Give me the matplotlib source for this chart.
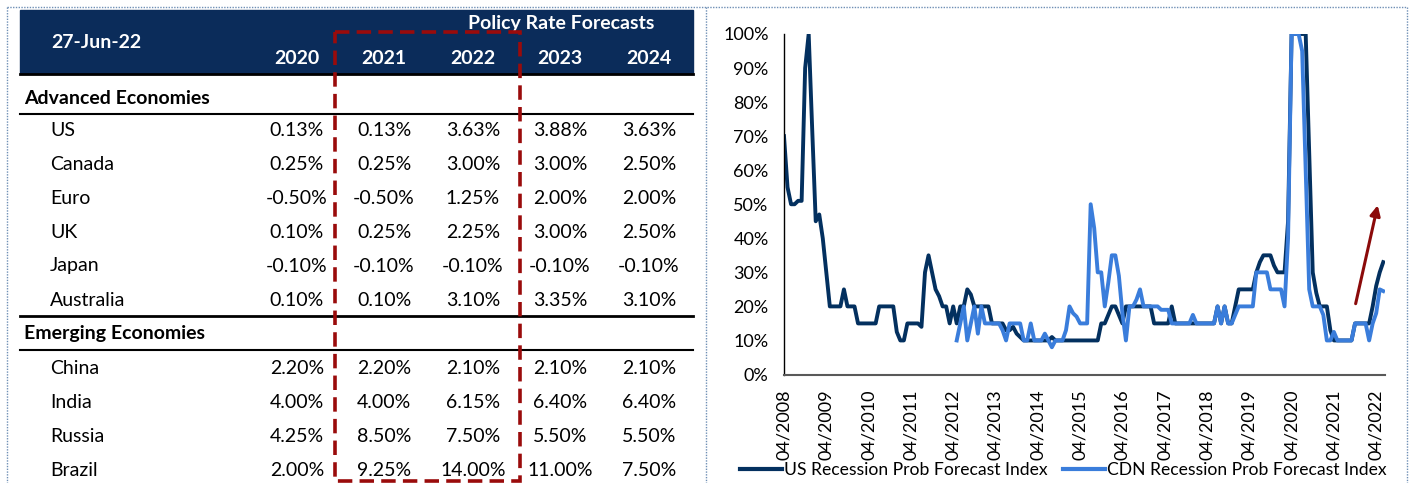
import numpy as np
import matplotlib
matplotlib.use("Agg")
import matplotlib.pyplot as plt
from matplotlib.patches import Rectangle
from matplotlib.lines import Line2D

plt.rcParams['font.family'] = ['Lato', 'DejaVu Sans']

# --- dane lentelei ---
table_date = "27-Jun-22"
table_title = "Policy Rate Forecasts"
years = ["2020", "2021", "2022", "2023", "2024"]

adv_title = "Advanced Economies"
adv_names = ["US", "Canada", "Euro", "UK", "Japan", "Australia"]
adv_rates = [
    [0.13, 0.13, 3.63, 3.88, 3.63],
    [0.25, 0.25, 3.00, 3.00, 2.50],
    [-0.50, -0.50, 1.25, 2.00, 2.00],
    [0.10, 0.25, 2.25, 3.00, 2.50],
    [-0.10, -0.10, -0.10, -0.10, -0.10],
    [0.10, 0.10, 3.10, 3.35, 3.10],
]

em_title = "Emerging Economies"
em_names = ["China", "India", "Russia", "Brazil"]
em_rates = [
    [2.20, 2.20, 2.10, 2.10, 2.10],
    [4.00, 4.00, 6.15, 6.40, 6.40],
    [4.25, 8.50, 7.50, 5.50, 5.50],
    [2.00, 9.25, 14.00, 11.00, 7.50],
]

# --- recesijos tikimybes (menesiniai duomenys nuo 04/2008) ---
us_prob = [
    70, 55, 50, 50, 51, 51, 90, 100, 72, 45, 47, 40,
    30, 20, 20, 20, 20, 25, 20, 20, 20, 15, 15, 15,
    15, 15, 15, 20, 20, 20, 20, 20, 12.5, 10, 10, 15,
    15, 15, 15, 14, 30, 35, 30, 25, 23, 20, 20, 15,
    20, 15, 20, 20, 25, 23.5, 20, 20, 20, 20, 20, 15,
    15, 15, 15, 13, 13, 14, 12, 11, 10, 10, 10, 10,
    10, 10, 10, 10, 11, 10, 10, 10, 10, 10, 10, 10,
    10, 10, 10, 10, 10, 10, 15, 15, 17.5, 20, 20, 17.5,
    15, 20, 20, 20, 20, 20, 20, 20, 20, 15, 15, 15,
    15, 15, 20, 15, 15, 15, 15, 15, 15, 15, 15, 15,
    15, 15, 15, 20, 15, 20, 15, 15, 20, 25, 25, 25,
    25, 25, 30, 33, 35, 35, 35, 32, 30, 30, 30, 45,
    100, 100, 100, 100, 100, 65, 30, 24, 20, 20, 20, 13,
    10, 10, 10, 10, 10, 10, 15, 15, 15, 15, 15, 20,
    26, 30, 33,
]

cdn_start = 49  # CDN serija prasideda 05/2012
cdn_prob = [
    10, 15, 20, 10, 15, 20, 12, 20, 15, 15, 15,
    15, 15, 13, 10, 15, 15, 15, 15, 10, 10, 15, 10,
    10, 10, 12, 10, 8, 10, 10, 10, 13, 20, 18, 17,
    15, 15, 15, 50, 43, 30, 30, 20, 27, 35, 35, 29,
    18, 10, 20, 20, 22, 25, 20, 20, 20, 20, 20, 19,
    19, 19, 15, 15, 15, 15, 15, 15, 17.5, 15, 15, 15,
    15, 15, 15, 20, 15, 20, 15, 15, 17.5, 20, 20, 20,
    20, 20, 30, 30, 30, 30, 25, 25, 25, 25, 20, 40,
    100, 100, 100, 95, 60, 25, 20, 20, 20, 17.5, 10, 10,
    12.5, 10, 10, 10, 10, 10, 15, 15, 15, 15, 10, 15,
    18, 25, 24.5,
]

x_labels = ["04/2008", "04/2009", "04/2010", "04/2011", "04/2012", "04/2013",
            "04/2014", "04/2015", "04/2016", "04/2017", "04/2018", "04/2019",
            "04/2020", "04/2021", "04/2022"]
y_ticks = [0, 10, 20, 30, 40, 50, 60, 70, 80, 90, 100]

us_label = "US Recession Prob Forecast Index"
cdn_label = "CDN Recession Prob Forecast Index"

# rodykle (menuo, %)
arrow_from = (162, 20)
arrow_to = (168.6, 50.5)

NAVY = "#0b2c5a"
DARK = "#03305f"
LIGHT = "#3a7ddb"
RED = "#9a0b0b"

W, H = 1413, 483
fig = plt.figure(figsize=(W / 100, H / 100), dpi=100)

# ---------- lentele (pikseliu koordinatemis) ----------
ax_t = fig.add_axes([0, 0, 1, 1])
ax_t.set_xlim(0, W)
ax_t.set_ylim(H, 0)
ax_t.axis("off")

# remeliai punktyru
for xs, ys in [((7, 1407), (7, 7)), ((7, 7), (7, H)), ((706, 706), (7, H)), ((1407, 1407), (7, H))]:
    ax_t.plot(xs, ys, ls=(0, (1, 1)), color="#6f8fb5", lw=1)

ax_t.add_patch(Rectangle((20, 10), 673, 63, color=NAVY, zorder=1))
hfs = 14
ax_t.text(561, 24, table_title, color="white", fontsize=hfs, fontweight="bold",
          ha="center", va="center", zorder=2)
ax_t.text(96, 43, table_date, color="white", fontsize=hfs, fontweight="bold",
          ha="center", va="center", zorder=2)

col_x = [297, 384, 473, 560, 649]
for cx, yr in zip(col_x, years):
    ax_t.text(cx, 59, yr, color="white", fontsize=hfs, fontweight="bold",
              ha="center", va="center", zorder=2)

for yl, lw in [(74, 2.0), (114, 1.5), (316, 2.0), (350, 1.5)]:
    ax_t.plot([20, 693], [yl, yl], color="black", lw=lw, zorder=2)

fs = 14
ax_t.text(24, 98, adv_title, fontsize=fs, fontweight="bold", va="center")
row_y = [131, 165, 199, 233, 266, 300]
for y, name, vals in zip(row_y, adv_names, adv_rates):
    ax_t.text(50, y, name, fontsize=fs, va="center")
    for cx, v in zip(col_x, vals):
        ax_t.text(cx, y, f"{v:.2f}%", fontsize=fs, va="center", ha="center")

ax_t.text(24, 334, em_title, fontsize=fs, fontweight="bold", va="center")
row_y = [369, 403, 437, 470]
for y, name, vals in zip(row_y, em_names, em_rates):
    ax_t.text(50, y, name, fontsize=fs, va="center")
    for cx, v in zip(col_x, vals):
        ax_t.text(cx, y, f"{v:.2f}%", fontsize=fs, va="center", ha="center")

# raudonas punktyrinis remelis 2021-2022 stulpeliams
ax_t.add_patch(Rectangle((335, 32), 185, 449, fill=False, edgecolor=RED,
                         lw=2.6, ls=(0, (4, 2)), zorder=3))

# ---------- grafikas ----------
ax = fig.add_axes([784 / W, (H - 374.5) / H, (1385 - 784) / W, 340.5 / H])
months = np.arange(len(us_prob))
ax.plot(months, us_prob, color=DARK, lw=2.8, solid_joinstyle="round")
ax.plot(months[cdn_start:cdn_start + len(cdn_prob)], cdn_prob, color=LIGHT, lw=2.8,
        solid_joinstyle="round")

ax.set_xlim(0, 170.5)
ax.set_ylim(0, 100)
ax.set_yticks(y_ticks)
ax.set_yticklabels([f"{t}%" for t in y_ticks], fontsize=13)
ax.set_xticks(np.arange(len(x_labels)) * 12)
ax.set_xticklabels(x_labels, rotation=90, fontsize=13)
ax.tick_params(length=0)
ax.tick_params(axis="x", pad=11)
ax.tick_params(axis="y", pad=11)
for s in ["top", "right"]:
    ax.spines[s].set_visible(False)
ax.spines["left"].set_color("black")
ax.spines["left"].set_linewidth(1)
ax.spines["bottom"].set_color("#595959")
ax.spines["bottom"].set_linewidth(1.5)
ax.set_facecolor("none")

ax.annotate("", xy=arrow_to, xytext=arrow_from,
            arrowprops=dict(arrowstyle="-|>,head_length=0.6,head_width=0.3",
                            color="#8b0a0a", lw=2.2))

handles = [Line2D([], [], color=DARK, lw=3), Line2D([], [], color=LIGHT, lw=3)]
fig.legend(handles, [us_label, cdn_label], loc="center", ncol=2, frameon=False,
           bbox_to_anchor=(1063 / W, 1 - 470 / H), fontsize=12.6,
           handlelength=2.4, handletextpad=0.1, columnspacing=0.9)

fig.savefig("out.png", dpi=100)
